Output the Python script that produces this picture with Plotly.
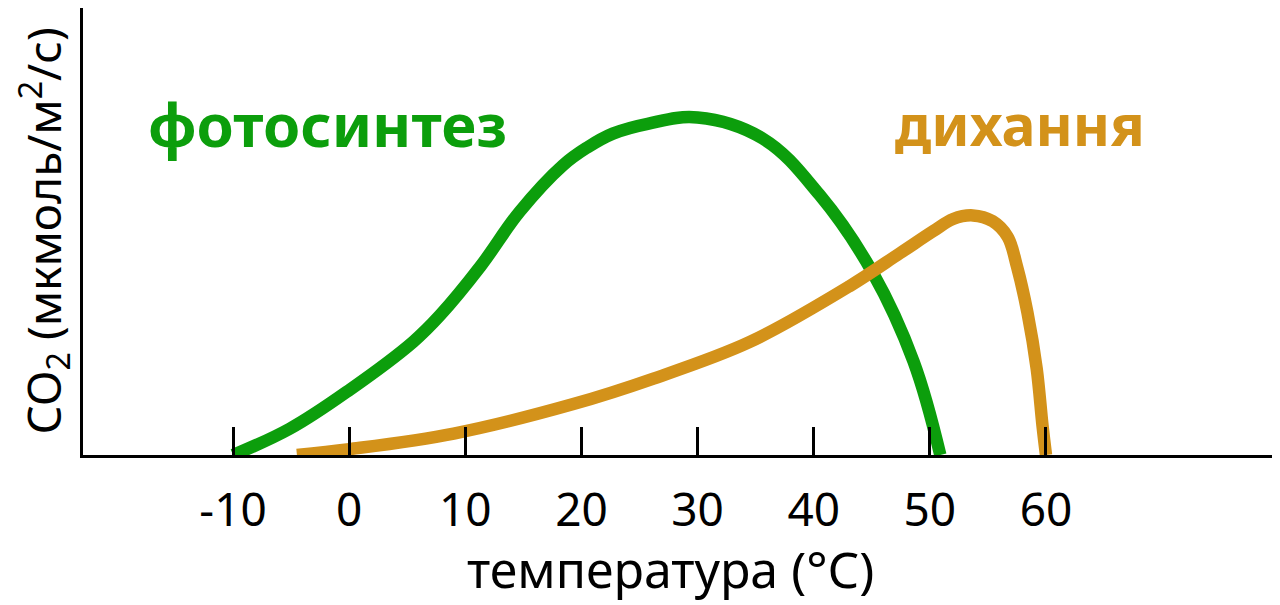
import plotly.graph_objects as go

# temperature (°C) and relative CO2 rate
photo_temp = [-10.0, -5.1, 0.1, 5.5, 7.8, 11.3, 14.7, 18.4, 20.5, 22.7, 25.7, 30.0,
              35.6, 40.5, 45.1, 48.6, 50.9]
photo_rate = [0.0, 5.9, 14.7, 25.3, 31.2, 42.2, 54.5, 64.8, 68.8, 71.9, 74.1, 75.5,
              70.8, 58.2, 40.7, 20.9, 0.0]

resp_temp = [-4.5, 0.0, 9.0, 19.3, 26.2, 34.5, 43.1, 47.4, 50.3, 52.0, 53.7, 55.4,
             56.7, 57.5, 58.4, 59.2, 59.7, 60.0]
resp_rate = [0.0, 1.3, 4.8, 11.4, 17.1, 25.3, 37.8, 45.1, 50.1, 52.8, 53.6, 52.3,
             48.8, 42.2, 31.9, 19.3, 6.6, 0.0]

tick_vals = [-10, 0, 10, 20, 30, 40, 50, 60]
tick_text = ['-10', '0', '10', '20', '30', '40', '50', '60']

green = '#0c9e0c'
orange = '#d3921a'
font = "Noto Sans"

fig = go.Figure()
fig.add_trace(go.Scatter(x=photo_temp, y=photo_rate, mode='lines',
                         line=dict(color=green, width=12.5, shape='spline', smoothing=1.1)))
fig.add_trace(go.Scatter(x=resp_temp, y=resp_rate, mode='lines',
                         line=dict(color=orange, width=12.5, shape='spline', smoothing=1)))

fig.add_annotation(x=-1.9, y=74, text='<b>фотосинтез</b>', showarrow=False,
                   font=dict(family=font, size=60, color=green))
fig.add_annotation(x=57.8, y=74, text='<b>дихання</b>', showarrow=False,
                   font=dict(family=font, size=57, color=orange))

# axis titles as annotations so they can sit where the picture has them
fig.add_annotation(xref='paper', yref='paper', x=0.4904, y=0, yshift=-114,
                   xanchor='center', yanchor='middle', showarrow=False,
                   text='температура (°C)',
                   font=dict(family=font, size=50, color='black'))
fig.add_annotation(xref='paper', yref='paper', x=0, y=0.5, xshift=-40,
                   xanchor='center', yanchor='middle', showarrow=False, textangle=-90,
                   text='CO<sub>2</sub> (мкмоль/м<sup>2</sup>/с)',
                   font=dict(family=font, size=46, color='black'))

fig.update_xaxes(range=[-22.92, 80.15], showline=True, linewidth=3, linecolor='black',
                 ticks='inside', ticklen=28, tickwidth=2.5, tickcolor='black',
                 tickvals=tick_vals, ticktext=tick_text, ticklabelstandoff=13,
                 tickfont=dict(family=font, size=46, color='black'),
                 showgrid=False, zeroline=False, automargin=False)
fig.update_yaxes(range=[0, 100], showline=True, linewidth=3, linecolor='black',
                 showticklabels=False, ticks='', showgrid=False, zeroline=False,
                 automargin=False)

# the page adds an 8px body margin, so the figure is 8px smaller each way
fig.update_layout(width=1272, height=597, showlegend=False,
                  margin=dict(l=75, r=0, t=0, b=150),
                  plot_bgcolor='white', paper_bgcolor='white')

fig.write_html("out.html")
